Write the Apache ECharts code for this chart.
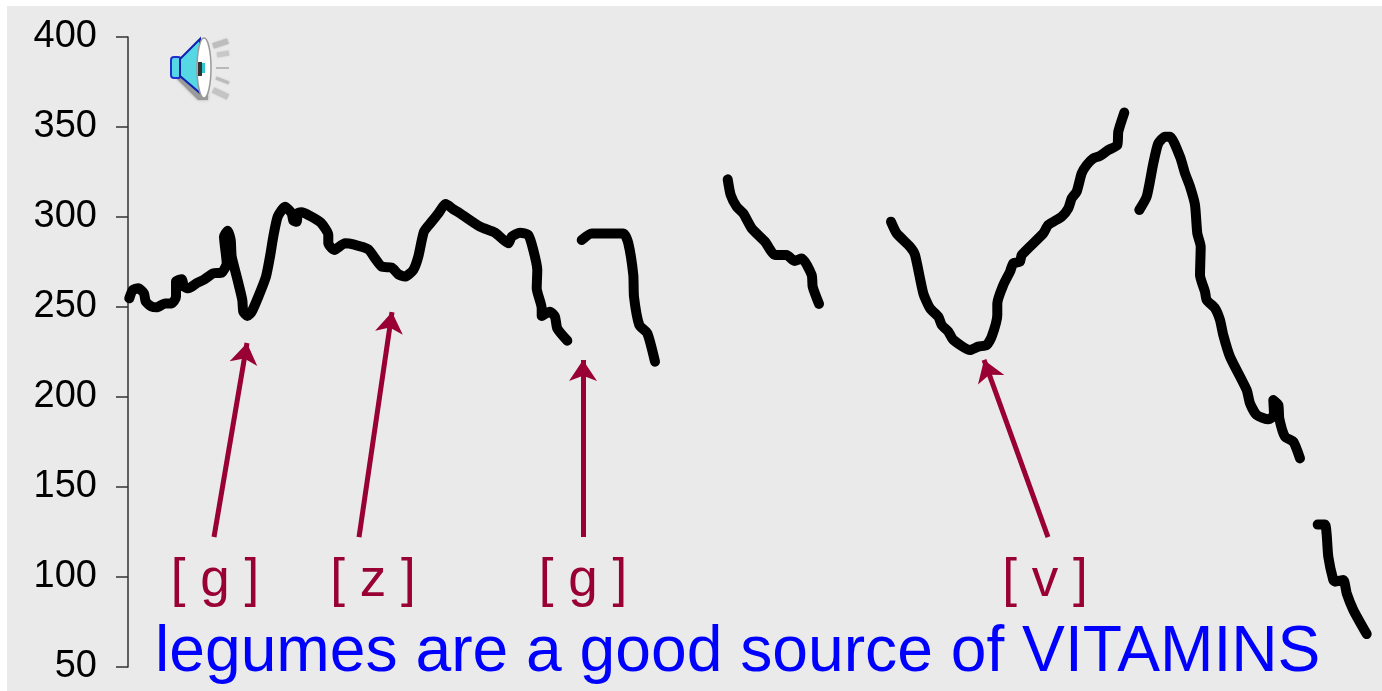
<!DOCTYPE html>
<html>
<head>
<meta charset="utf-8">
<style>
  html, body { margin: 0; padding: 0; background: #fff; }
  #chart { width: 1382px; height: 691px; }
</style>
<script src="https://cdn.jsdelivr.net/npm/echarts@6/dist/echarts.min.js"></script>
</head>
<body>
<div id="chart"></div>
<script>
// pitch track, [time, Hz]
const segment1 = [[1.3,254.8],[4.7,259.4],[10.3,260.4],[16,257.6],[17.7,253],[23.7,250.2],[28.7,249.8],[37,252],[43.7,252],[48,255.7],[48,264.1],[53.7,265.4],[56,261.3],[60.3,260.4],[68.7,263.2],[75.3,265],[85.3,268.7],[93.7,269.1],[98.7,274.3],[96,289.1],[99.7,292.4],[102.7,287.2],[103.7,278],[108.7,266.9],[114.3,253.9],[115.3,247.4],[119.3,245],[123.7,247.4],[130.3,255.7],[138,266.9],[142,278],[145.3,289.1],[149.7,300.2],[157,305.7],[163.7,302],[165.3,298],[168.7,297.4],[169.7,302],[173.7,302.6],[182,300.6],[192.7,296.9],[200.3,290],[200.3,285.4],[206.3,281.7],[217,285.4],[225.3,284.8],[240.3,282],[247,277],[253.7,272.4],[263.7,271.9],[270.3,268.2],[277,266.9],[285.3,270.6],[290.3,278],[296,291.9],[303.7,297.4],[310.3,302],[317.7,307.2],[325.3,304.3],[332,302],[352,294.6],[367,291.3],[380.3,285.4],[383.7,289.1],[392,291.3],[400.3,290],[405.3,281.7],[409.3,270.6],[408.7,260.4],[413.7,249.3],[413.7,245],[422,247.4],[427,244.6],[429.3,238.1],[439.3,231.3]]
const segment2 = [[453.7,287.2],[463.7,290.9],[495.3,290.9],[500.3,285.4],[505.3,267.8],[506,255.7],[511.3,240],[519.3,235.4],[527,219.6]]
const segment3 = [[599.7,320.9],[602.7,312.2],[608.7,305.7],[615.3,302],[623.7,293.7],[637,286.3],[647,278.9],[658.7,278.9],[666.3,275.6],[673.7,277],[683.7,267.8],[684.7,261.3],[691,251.7]]
const segment4 = [[763,297.4],[768.7,290.9],[782,283.5],[787,278.9],[795.3,257.6],[802,249.3],[810.3,244.6],[813.7,240],[820.3,236.3],[825.3,231.7],[842,226.1],[850.3,228],[858.7,228.9],[863.7,233.5],[869.3,245.6],[869.3,252],[875.3,262.2],[882,269.6],[885.3,274.3],[892,275.2],[893.7,278.9],[915.3,290.9],[920.3,295.6],[933.7,300.2],[940.3,304.8],[943.7,310.4],[948.7,314.1],[953.7,324.3],[958.7,328.9],[965.3,332.6],[972,333.9],[980.3,337.2],[989.3,340],[990.3,347.4],[996.3,358]]
const segment5 = [[1011.3,303.9],[1018.7,311.3],[1025.3,329.8],[1030.3,340.9],[1037,344.6],[1042,344.6],[1052,333.5],[1057,324.3],[1062,316.9],[1067,306.7],[1069.3,290.9],[1072.7,283.5],[1072,267.8],[1077,258.5],[1078.7,253.9],[1087,249.3],[1092,242.8],[1095.3,234.4],[1102,222.4],[1118.7,203.9],[1122,196.5],[1128.7,190],[1140.3,187.6],[1146,190],[1145.3,198.3],[1150.3,195.6],[1151.3,188.1],[1157,177.9],[1165.3,175.2],[1172,165.9]]
const segment6 = [[1189.7,129.1],[1197,129.1],[1198.7,123.3],[1200.3,111.3],[1205.3,98.3],[1207,97.4],[1215.3,98.3],[1218.7,90.9],[1225.3,81.7],[1238.7,68.3]]
const segments = [segment1, segment2, segment3, segment4, segment5, segment6]

// phoneme labels and the arrows above them
const phonemes = ['[ g ]', '[ z ]', '[ g ]', '[ v ]']
const phonemeTimes = [87, 245, 455, 917]
const phonemeHz = [97.8, 97.8, 97.8, 97.8]
const arrowTails = [[86,122.2],[231,122.2],[455,122.2],[920,122.2]]
const arrowHeads = [[119,230],[264,247.2],[455,220.6],[856,220.6]]

const yTicks = { min: 50, max: 400, interval: 50 }
const sentence = 'legumes are a good source of VITAMINS'
const maroon = '#990033'

const chart = echarts.init(document.getElementById('chart'))

const lineSeries = segments.map((seg, i) => ({
  name: 'segment' + (i + 1),
  type: 'line',
  data: seg,
  showSymbol: false,
  silent: true,
  clip: false,
  smooth: 0.2,
  lineStyle: { color: '#000', width: 10, cap: 'round', join: 'round' },
}))

const option = {
  animation: false,
  backgroundColor: '#fff',
  title: {
    text: sentence,
    left: 155,
    top: 621,
    padding: 0,
    textStyle: { color: '#0000ff', fontFamily: 'Liberation Sans', fontWeight: 'normal', fontSize: 64.2 },
  },
  grid: { left: 128, right: 0, top: 37, bottom: 24 },
  xAxis: { type: 'value', min: 0, max: 1254, show: false },
  yAxis: {
    type: 'value',
    min: yTicks.min,
    max: yTicks.max,
    interval: yTicks.interval,
    splitLine: { show: false },
    axisLine: { show: true, lineStyle: { color: '#333', width: 1.5 } },
    axisTick: { show: true, length: 12, lineStyle: { color: '#333', width: 1.5 } },
    axisLabel: { color: '#000', fontFamily: 'Liberation Sans', fontSize: 38, margin: 31 },
  },
  series: [
    ...lineSeries,
    {
      type: 'scatter',
      silent: true,
      symbolSize: 1,
      itemStyle: { color: '#eaeaea', opacity: 1 },
      data: phonemes.map((name, i) => ({ name, value: [phonemeTimes[i], phonemeHz[i]] })),
      label: {
        show: true,
        position: 'inside',
        formatter: '{b}',
        color: maroon,
        opacity: 1,
        fontFamily: 'Liberation Sans',
        fontSize: 53,
      },
      markLine: {
        silent: true,
        animation: false,
        symbol: ['none', 'arrow'],
        symbolSize: 21,
        label: { show: false },
        lineStyle: { color: maroon, width: 5, type: 'solid', opacity: 1 },
        data: arrowTails.map((tail, i) => [{ coord: tail }, { coord: arrowHeads[i] }]),
      },
    },
  ],
  graphic: [
    { type: 'rect', z: -10, silent: true, shape: { x: 7, y: 6, width: 1375, height: 685 }, style: { fill: '#eaeaea' } },
    // loudspeaker icon
    {
      type: 'group',
      silent: true,
      children: [
        { type: 'polygon', shape: { points: [[176, 78], [198, 100], [208, 100], [208, 92], [182, 72]] }, style: { fill: '#9a9a9a', shadowBlur: 3, shadowColor: '#aaa' } },
        { type: 'rect', shape: { x: 171, y: 57, width: 10, height: 21, r: 3 }, style: { fill: '#55d8e4', stroke: '#2030d0', lineWidth: 2 } },
        { type: 'polygon', shape: { points: [[180, 59], [200, 39], [200, 93], [180, 76]] }, style: { fill: '#55d8e4', stroke: '#1020b0', lineWidth: 2 } },
        { type: 'ellipse', shape: { cx: 204, cy: 68, rx: 7, ry: 30 }, style: { fill: '#fff', stroke: '#9a9a9a', lineWidth: 1.5 } },
        { type: 'rect', shape: { x: 198, y: 62, width: 4, height: 14 }, style: { fill: '#333' } },
        { type: 'rect', shape: { x: 202, y: 63, width: 3, height: 10 }, style: { fill: '#30c8d0' } },
        { type: 'line', shape: { x1: 213, y1: 46, x2: 228, y2: 41 }, style: { stroke: '#bdbdbd', lineWidth: 6, shadowBlur: 2, shadowColor: '#ccc' } },
        { type: 'line', shape: { x1: 217, y1: 55, x2: 229, y2: 53 }, style: { stroke: '#c8c8c8', lineWidth: 5, shadowBlur: 2, shadowColor: '#ccc' } },
        { type: 'line', shape: { x1: 216, y1: 68, x2: 229, y2: 68 }, style: { stroke: '#b8b8b8', lineWidth: 2 } },
        { type: 'line', shape: { x1: 216, y1: 78, x2: 229, y2: 83 }, style: { stroke: '#bcbcbc', lineWidth: 3, shadowBlur: 2, shadowColor: '#ccc' } },
        { type: 'line', shape: { x1: 213, y1: 90, x2: 228, y2: 97 }, style: { stroke: '#c4c4c4', lineWidth: 6, shadowBlur: 2, shadowColor: '#ccc' } },
      ],
    },
  ],
}

chart.setOption(option)
</script>
</body>
</html>
